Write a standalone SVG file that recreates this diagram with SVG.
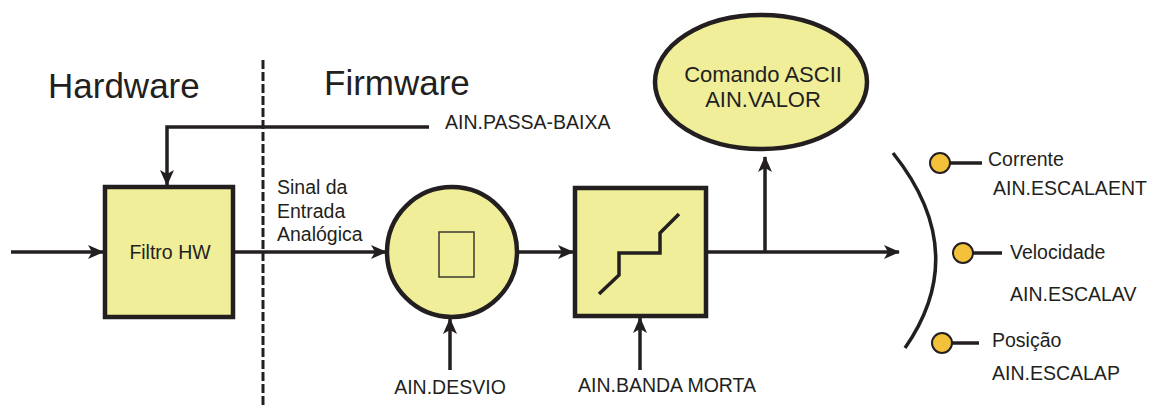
<svg xmlns="http://www.w3.org/2000/svg" width="1151" height="405" viewBox="0 0 1151 405">
<style>
.t{font-family:"Liberation Sans",Arial,sans-serif;fill:#231f20}
.lbl{font-size:19.5px}
.big{font-size:35px}
.ln{stroke:#231f20;stroke-width:3.5;fill:none}
.blk{fill:#f0ee98;stroke:#231f20;stroke-width:4.5}
.dot{fill:#f3c13a;stroke:#231f20;stroke-width:2}
</style>
<defs>
<marker id="ah" markerUnits="userSpaceOnUse" markerWidth="16" markerHeight="14" refX="15" refY="7" orient="auto">
<path d="M0,0 L16,7 L0,14 L4,7 z" fill="#231f20"/>
</marker>
</defs>
<rect width="1151" height="405" fill="#fff"/>
<g id="divider">
<line x1="263" y1="60" x2="263" y2="405" stroke="#231f20" stroke-width="3" stroke-dasharray="9 3"/>
<text class="t big" x="48" y="98">Hardware</text>
<text class="t big" x="324" y="95">Firmware</text>
</g>
<g id="connectors">
<line class="ln" x1="11" y1="252" x2="103" y2="252" marker-end="url(#ah)"/>
<polyline class="ln" points="429,127 167,127 167,185" marker-end="url(#ah)"/>
<line class="ln" x1="232" y1="252" x2="386" y2="252" marker-end="url(#ah)"/>
<line class="ln" x1="517" y1="252" x2="573" y2="252" marker-end="url(#ah)"/>
<line class="ln" x1="706" y1="252" x2="899" y2="252" marker-end="url(#ah)"/>
<line class="ln" x1="765" y1="252" x2="765" y2="157" marker-end="url(#ah)"/>
<line class="ln" x1="450" y1="370" x2="450" y2="319" marker-end="url(#ah)"/>
<line class="ln" x1="640" y1="370" x2="640" y2="318" marker-end="url(#ah)"/>
</g>
<g id="filtro">
<rect class="blk" x="105" y="187" width="128" height="130"/>
<text class="t lbl" x="170" y="259" text-anchor="middle">Filtro HW</text>
</g>
<g id="sinal">
<text class="t lbl" x="277" y="194">Sinal da</text>
<text class="t lbl" x="277" y="218">Entrada</text>
<text class="t lbl" x="277" y="241">Analógica</text>
</g>
<g id="passa-baixa">
<text class="t lbl" x="445" y="129">AIN.PASSA-BAIXA</text>
</g>
<g id="desvio">
<circle class="blk" cx="452" cy="252" r="65"/>
<rect x="439" y="232" width="35" height="45" fill="none" stroke="#3a3a30" stroke-width="1.5"/>
<text class="t lbl" x="450" y="394" text-anchor="middle">AIN.DESVIO</text>
</g>
<g id="banda">
<rect class="blk" x="575" y="188" width="131" height="128"/>
<polyline points="599,294 619,275 619,253 660,253 660,233 679,214" fill="none" stroke="#231f20" stroke-width="3.5"/>
<text class="t lbl" x="667" y="392" text-anchor="middle">AIN.BANDA MORTA</text>
</g>
<g id="ascii">
<ellipse class="blk" cx="761" cy="82" rx="106" ry="67"/>
<text class="t" font-size="22" x="763" y="82" text-anchor="middle">Comando ASCII</text>
<text class="t" font-size="22" x="763" y="107" text-anchor="middle">AIN.VALOR</text>
</g>
<g id="selector">
<path d="M893,153 Q972,252 905,348" class="ln"/>
</g>
<g id="corrente">
<line class="ln" x1="948" y1="163" x2="982" y2="163"/>
<circle class="dot" cx="940" cy="163" r="10"/>
<text class="t lbl" x="988" y="166">Corrente</text>
<text class="t lbl" x="993" y="195">AIN.ESCALAENT</text>
</g>
<g id="velocidade">
<line class="ln" x1="970" y1="253" x2="1002" y2="253"/>
<circle class="dot" cx="963" cy="253" r="10"/>
<text class="t lbl" x="1010" y="259">Velocidade</text>
<text class="t lbl" x="1010" y="301">AIN.ESCALAV</text>
</g>
<g id="posicao">
<line class="ln" x1="950" y1="343" x2="979" y2="343"/>
<circle class="dot" cx="942" cy="343" r="10"/>
<text class="t lbl" x="992" y="347">Posição</text>
<text class="t lbl" x="992" y="380">AIN.ESCALAP</text>
</g>
</svg>
